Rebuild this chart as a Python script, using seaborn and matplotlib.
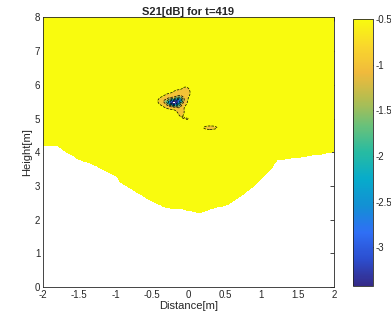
import numpy as np
import matplotlib
matplotlib.use("Agg")
import matplotlib.pyplot as plt
import seaborn as sns

# lower edge of the imaged area (distance, height)
edge_x = [-2.0, -1.79, -1.66, -1.49, -1.35, -0.98, -0.94, -0.76, -0.49, -0.30,
          -0.09, 0.16, 0.34, 0.53, 0.80, 0.94, 1.12, 1.22, 1.40, 1.77, 2.0]
edge_h = [4.19, 4.18, 3.98, 3.77, 3.68, 3.27, 3.12, 2.88, 2.53, 2.35,
          2.31, 2.20, 2.34, 2.43, 2.83, 3.08, 3.47, 3.77, 3.82, 3.92, 4.01]

background = -0.45
# dips in S21: centre x, centre y, depth, spread x, spread y
dip_x = [-0.20, -0.12, -0.34, -0.25, -0.13, -0.04, -0.13, -0.10, -0.07, -0.02, 0.30]
dip_y = [5.47, 5.56, 5.52, 5.58, 5.67, 5.77, 5.35, 5.20, 5.03, 5.00, 4.73]
dip_depth = [2.97, 1.3, 0.35, 0.4, 0.4, 0.4, 0.4, 0.35, 0.12, 0.12, 0.4]
dip_sx = [0.06, 0.04, 0.04, 0.05, 0.05, 0.03, 0.03, 0.02, 0.01, 0.01, 0.045]
dip_sy = [0.07, 0.06, 0.06, 0.08, 0.09, 0.08, 0.08, 0.07, 0.02, 0.02, 0.025]

levels = [-3.42, -3.0, -2.5, -2.0, -1.5, -1.0, -0.5, 0.0]
cbar_ticks = [-3.0, -2.5, -2.0, -1.5, -1.0, -0.5]

parula = ["#352a87", "#2c4ecf", "#2f6ff5", "#1390d4", "#07abcb",
          "#27bba2", "#69c17a", "#b5bd4f", "#f0ba3c", "#f9d72c", "#f9fb0e"]

sns.set_style("white")
plt.rcParams["font.family"] = ["Liberation Sans", "DejaVu Sans"]
cmap = sns.blend_palette(parula, as_cmap=True)
norm = matplotlib.colors.Normalize(vmin=-3.42, vmax=-0.5)

gx = np.linspace(-2, 2, 401)
gy = np.linspace(0, 8, 401)
X, Y = np.meshgrid(gx, gy)
Z = np.full(X.shape, background)
for cx, cy, d, sx, sy in zip(dip_x, dip_y, dip_depth, dip_sx, dip_sy):
    Z -= d * np.exp(-0.5 * (((X - cx) / sx) ** 2 + ((Y - cy) / sy) ** 2))
Z[Y < np.interp(X, edge_x, edge_h)] = np.nan

band_colors = [cmap(norm(lv)) for lv in levels[:-1]]

fig = plt.figure(figsize=(3.91, 3.23), dpi=100)
ax = fig.add_axes([0.110, 0.111, 0.744, 0.835])
ax.contourf(X, Y, Z, levels=levels, colors=band_colors)
ax.contour(X, Y, Z, levels=levels[1:-1], colors="k", linewidths=0.5)

ax.set_xlim(-2, 2)
ax.set_ylim(0, 8)
xt = np.arange(-2, 2.01, 0.5)
ax.set_xticks(xt)
ax.set_xticklabels(["%g" % v for v in xt])
ax.set_yticks(range(9))
ax.tick_params(direction="in", length=3, width=0.6, labelsize=7,
               colors="#262626", top=True, right=True, pad=2)
for s in ax.spines.values():
    s.set_linewidth(0.6)
    s.set_color("#262626")
ax.set_xlabel("Distance[m]", fontsize=8, color="#262626", labelpad=1)
ax.set_ylabel("Height[m]", fontsize=8, color="#262626", labelpad=2)
ax.set_title("S21[dB] for t=419", fontsize=8, fontweight="bold", pad=2)

cax = fig.add_axes([0.903, 0.115, 0.051, 0.826])
sm = matplotlib.cm.ScalarMappable(norm=norm, cmap=cmap)
cb = fig.colorbar(sm, cax=cax, ticks=cbar_ticks)
cb.ax.set_yticklabels(["%g" % v for v in cbar_ticks])
cb.ax.tick_params(direction="in", length=2, width=0.6, labelsize=7,
                  colors="#262626", pad=2)
cb.outline.set_linewidth(0.6)

fig.savefig("out.png", dpi=100)
